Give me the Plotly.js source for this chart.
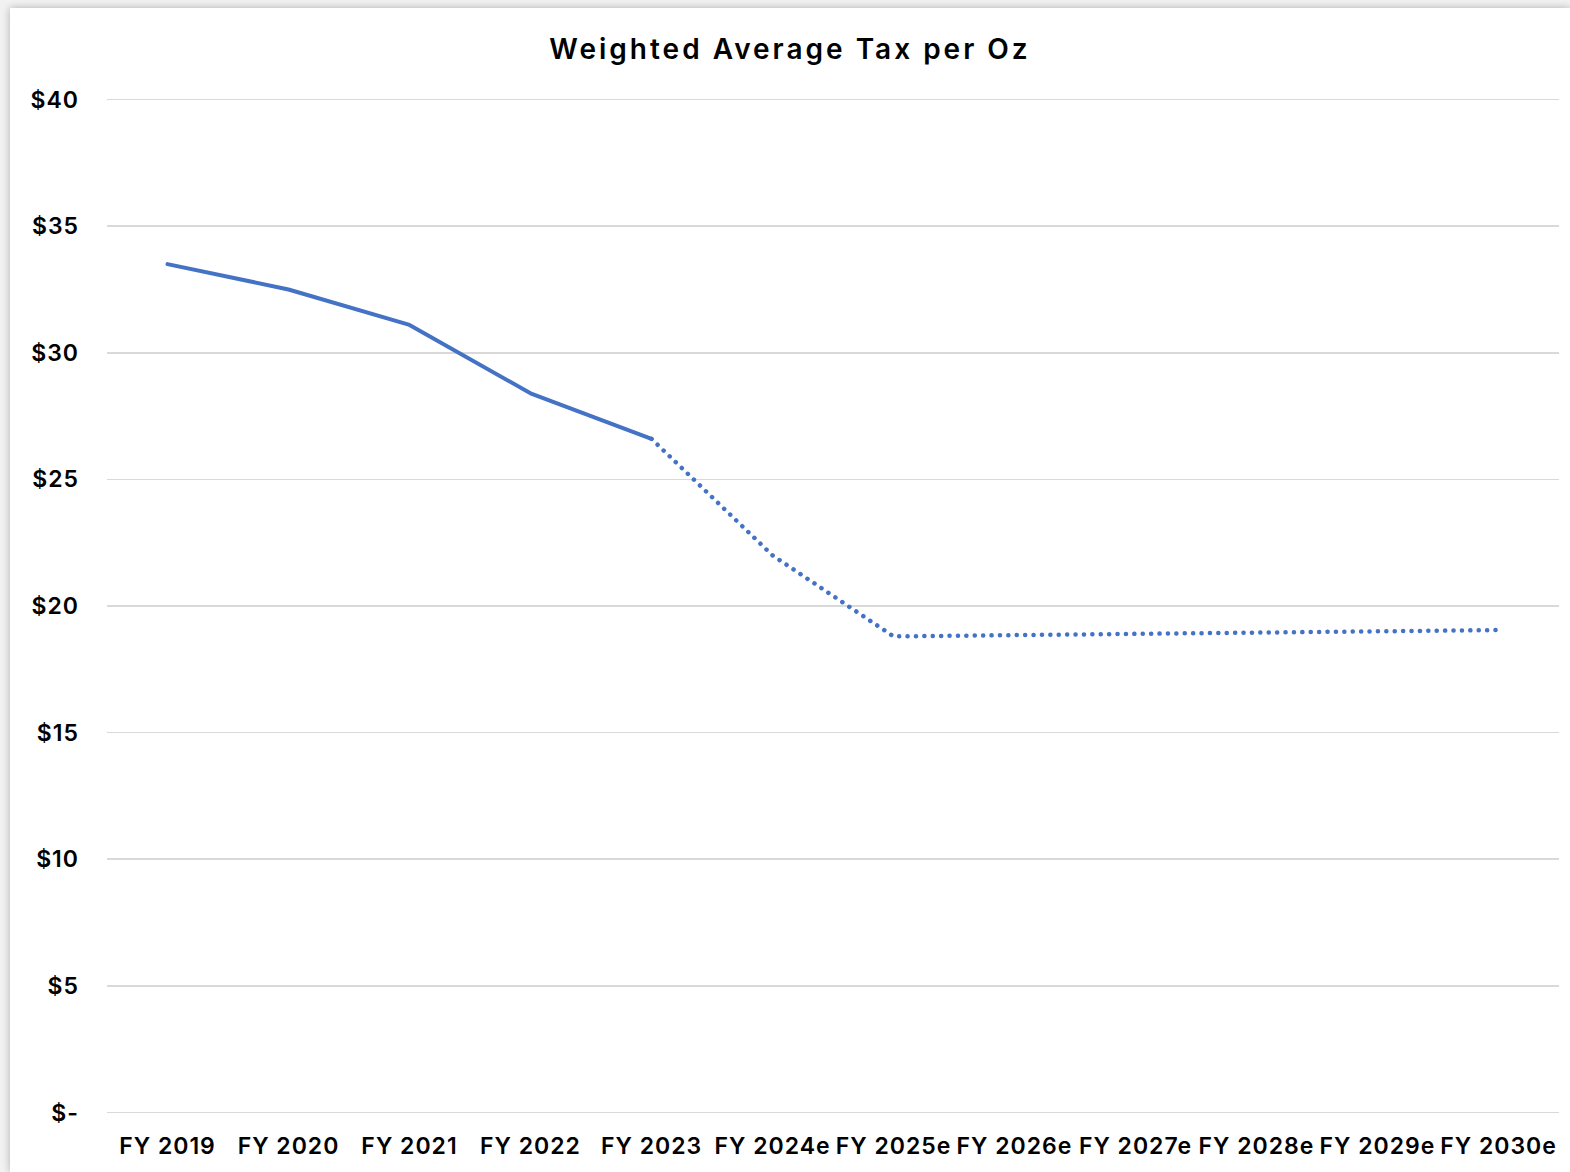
<!DOCTYPE html>
<html>
<head>
<meta charset="utf-8">
<script src="https://cdn.plot.ly/plotly-3.0.1.min.js"></script>
<style>
html, body { margin: 0; padding: 0; background: #f2f2f2; width: 1570px; height: 1172px; overflow: hidden; }
#card { position: absolute; left: 10px; top: 8px; width: 1560px; height: 1164px; background: #fff; box-shadow: 0 0 8px rgba(0,0,0,0.28); }
#chart { width: 1560px; height: 1164px; }
.gtitle { letter-spacing: 3px; }
.xtick text, .ytick text { letter-spacing: 1px; }
.js-line { stroke-linecap: round !important; stroke-linejoin: round !important; }
</style>
</head>
<body>
<div id="card"><div id="chart"></div></div>
<script>
const categories = ["FY 2019","FY 2020","FY 2021","FY 2022","FY 2023","FY 2024e","FY 2025e","FY 2026e","FY 2027e","FY 2028e","FY 2029e","FY 2030e"];
const actualValues = [33.5, 32.5, 31.1, 28.4, 26.6, null, null, null, null, null, null, null];
const estimateValues = [null, null, null, null, 26.6, 22.0, 18.8, 18.85, 18.9, 18.95, 19.0, 19.05];
const yTickValues = [0, 5, 10, 15, 20, 25, 30, 35, 40];
const yTickLabels = ["$-", "$5", "$10", "$15", "$20", "$25", "$30", "$35", "$40"];
const chartTitle = "Weighted Average Tax per Oz";

const blue = "#4472C4";
const fontFam = "Inter, 'Open Sans', sans-serif";

const traces = [
  { x: categories, y: actualValues, type: "scatter", mode: "lines", line: { color: blue, width: 4 }, connectgaps: false, hoverinfo: "skip" },
  { x: categories, y: estimateValues, type: "scatter", mode: "lines", line: { color: blue, width: 4.5, dash: "0.1px,8.3px" }, connectgaps: false, hoverinfo: "skip" }
];

const layout = {
  width: 1560, height: 1164,
  paper_bgcolor: "#ffffff", plot_bgcolor: "#ffffff",
  showlegend: false,
  margin: { l: 97, r: 11, t: 89, b: 57 },
  title: { text: chartTitle, x: 0.5, xanchor: "center", y: 0.965, yanchor: "middle", font: { family: fontFam, size: 28, color: "#000", weight: 600 } },
  xaxis: {
    type: "category", categoryorder: "array", categoryarray: categories,
    range: [-0.5, 11.5], showgrid: false, zeroline: false, showline: false,
    ticks: "", ticklabelstandoff: 15,
    tickfont: { family: fontFam, size: 23, color: "#000", weight: 600 }
  },
  yaxis: {
    range: [-0.1, 40.1], tickmode: "array", tickvals: yTickValues, ticktext: yTickLabels,
    showgrid: true, gridcolor: "#d9d9d9", gridwidth: 1.5, zeroline: false, showline: false,
    ticks: "", ticklabelstandoff: 27,
    tickfont: { family: fontFam, size: 23, color: "#000", weight: 600 }
  }
};

Plotly.newPlot("chart", traces, layout, { displayModeBar: false, staticPlot: true });
</script>
</body>
</html>
